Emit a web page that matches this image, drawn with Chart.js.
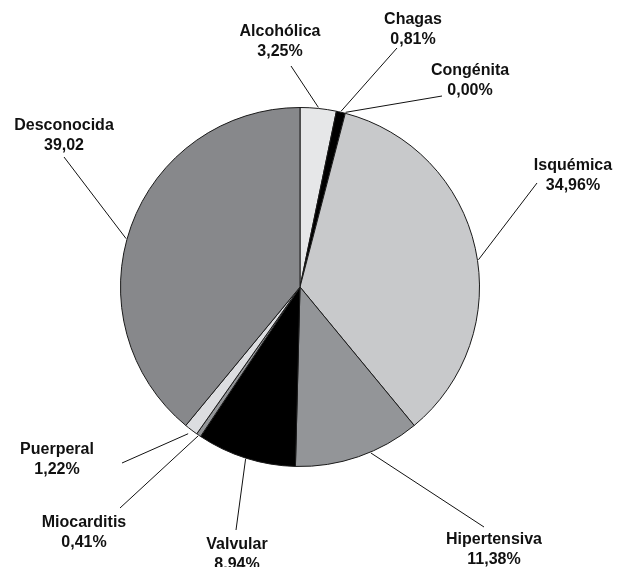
<!DOCTYPE html>
<html>
<head>
<meta charset="utf-8">
<script src="https://cdn.jsdelivr.net/npm/chart.js@4/dist/chart.umd.min.js"></script>
<style>
  html, body { margin: 0; padding: 0; background: #fff; }
  #wrap { width: 629px; height: 567px; position: relative; }
</style>
</head>
<body>
<div id="wrap"><canvas id="pie"></canvas></div>
<script>
const categories = ['Alcohólica', 'Chagas', 'Congénita', 'Isquémica', 'Hipertensiva', 'Valvular', 'Miocarditis', 'Puerperal', 'Desconocida'];
const values = [3.25, 0.81, 0.00, 34.96, 11.38, 8.94, 0.41, 1.22, 39.02];
const valueTexts = ['3,25%', '0,81%', '0,00%', '34,96%', '11,38%', '8,94%', '0,41%', '1,22%', '39,02'];
const colors = ['#e6e7e8', '#000000', '#000000', '#c8c9cb', '#939598', '#000000', '#939598', '#dcdde0', '#87888b'];

// label placement: text centre (tx, ty of first line), leader line end (lx, ly),
// where along the slice the line starts (frac) and gap from the rim
const labelLayout = [
  { tx: 280, ty: 32, lx: 291, ly: 66, frac: 0.5, gap: 1 },
  { tx: 413, ty: 20, lx: 397, ly: 48, frac: 0.5, gap: 1 },
  { tx: 470, ty: 71, lx: 442, ly: 96, frac: 0.5, gap: 1 },
  { tx: 573, ty: 166, lx: 537, ly: 183, frac: 0.53, gap: 1 },
  { tx: 494, ty: 540, lx: 484, ly: 527, frac: 0.4, gap: 1 },
  { tx: 237, ty: 545, lx: 236, ly: 530, frac: 0.5, gap: 1 },
  { tx: 84, ty: 523, lx: 120, ly: 508, frac: 0.5, gap: 1 },
  { tx: 57, ty: 450, lx: 122, ly: 463, frac: 0.5, gap: 5 },
  { tx: 64, ty: 126, lx: 64, ly: 157, frac: 0.47, gap: 1 }
];

const labelPlugin = {
  id: 'leaderLabels',
  afterDraw(chart) {
    const { ctx } = chart;
    const arcs = chart.getDatasetMeta(0).data;
    ctx.save();
    ctx.font = 'bold 16px "Liberation Sans", Arial, sans-serif';
    ctx.textAlign = 'center';
    ctx.textBaseline = 'middle';
    ctx.fillStyle = '#111';
    ctx.strokeStyle = '#111';
    ctx.lineWidth = 1;
    arcs.forEach((arc, i) => {
      const l = labelLayout[i];
      const a = arc.startAngle + (arc.endAngle - arc.startAngle) * l.frac;
      const r = arc.outerRadius + l.gap;
      const sx = arc.x + Math.cos(a) * r;
      const sy = arc.y + Math.sin(a) * r;
      ctx.beginPath();
      ctx.moveTo(sx, sy);
      ctx.lineTo(l.lx, l.ly);
      ctx.stroke();
      ctx.fillText(categories[i], l.tx, l.ty);
      ctx.fillText(valueTexts[i], l.tx, l.ty + 20);
    });
    ctx.restore();
  }
};

new Chart(document.getElementById('pie'), {
  type: 'pie',
  data: {
    labels: categories,
    datasets: [{
      data: values,
      backgroundColor: colors,
      borderColor: '#1a1a1a',
      borderWidth: 1
    }]
  },
  options: {
    responsive: true,
    maintainAspectRatio: false,
    animation: false,
    layout: { padding: { left: 120, right: 149, top: 107, bottom: 100 } },
    plugins: { legend: { display: false }, tooltip: { enabled: false } }
  },
  plugins: [labelPlugin]
});
</script>
</body>
</html>
